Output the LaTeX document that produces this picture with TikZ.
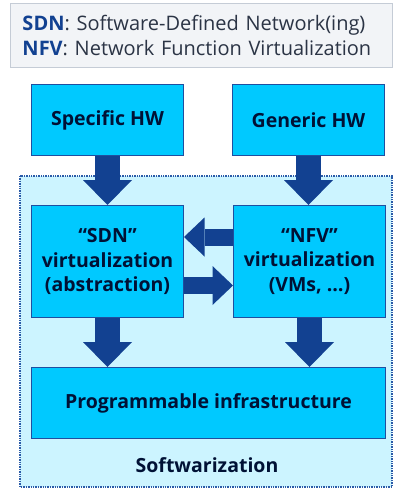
\documentclass[tikz,border=0pt]{standalone}
\usepackage{fontspec}
\setmainfont{Open Sans}
\usetikzlibrary{arrows.meta}
\definecolor{boxfill}{HTML}{00C9FF}
\definecolor{boxline}{HTML}{1F4FA0}
\definecolor{nokiablue}{HTML}{124191}
\definecolor{zonefill}{HTML}{CCF4FF}
\definecolor{zoneline}{HTML}{2A5BA8}
\definecolor{inktext}{HTML}{001135}
\definecolor{legendfill}{HTML}{F2F4F7}
\definecolor{legendline}{HTML}{C5CCD6}
\definecolor{legendtext}{HTML}{2B3445}
\tikzset{
  block/.style={draw=boxline, line width=1pt, fill=boxfill, inner sep=0pt,
    anchor=north west, align=center, text=inktext,
    font=\fontsize{19.5}{24.5}\selectfont\bfseries},
  downflow/.style={draw=nokiablue, line width=25pt,
    -{Triangle[width=49pt,length=25pt,line width=0pt]}},
  sideflow/.style={draw=nokiablue, line width=17pt,
    -{Triangle[width=39pt,length=20.5pt,line width=0pt]}},
}
\begin{document}
\begin{tikzpicture}[x=1pt,y=-1pt]
\useasboundingbox (0,0) rectangle (394,488);

% softwarization zone
\draw[zoneline, fill=zonefill, line width=1.4pt, densely dotted]
  (20,176) rectangle (392,487);
\node[text=inktext, font=\fontsize{19.5}{24}\selectfont\bfseries, anchor=base]
  (softw) at (207,472) {Softwarization};

% acronym legend
\node[draw=legendline, fill=legendfill, line width=1pt, anchor=north west,
  minimum width=382pt, minimum height=64pt, text width=358pt,
  inner xsep=12pt, inner ysep=0pt, align=left, text=legendtext,
  font=\fontsize{20}{25}\selectfont] (legend) at (10,3)
  {{\color{nokiablue}\bfseries SDN}: Software-Defined Network(ing)\\
   {\color{nokiablue}\bfseries NFV}: Network Function Virtualization};

% hardware and virtualization blocks
\node[block, minimum width=152pt, minimum height=71pt] (spec) at (31,84) {Specific HW};
\node[block, minimum width=152pt, minimum height=71pt] (gen) at (232,84) {Generic HW};
\node[block, minimum width=152pt, minimum height=112pt] (sdn) at (31,205)
  {``SDN''\\virtualization\\(abstraction)};
\node[block, minimum width=152pt, minimum height=112pt] (nfv) at (233,205)
  {``NFV''\\virtualization\\(VMs, \dots)};
\node[block, minimum width=354pt, minimum height=71pt] (prog) at (31,367)
  {Programmable infrastructure};

% flows between blocks
\draw[downflow] (spec.south) -- (sdn.north);
\draw[downflow] (gen.south) -- (gen.south |- nfv.north);
\draw[downflow] (sdn.south) -- (sdn.south |- prog.north);
\draw[downflow] (nfv.south) -- (nfv.south |- prog.north);
\draw[sideflow] ([yshift=24.5pt]nfv.west) -- ([yshift=24.5pt]sdn.east);
\draw[sideflow] ([yshift=-24pt]sdn.east) -- ([yshift=-24pt]nfv.west);
\end{tikzpicture}
\end{document}
